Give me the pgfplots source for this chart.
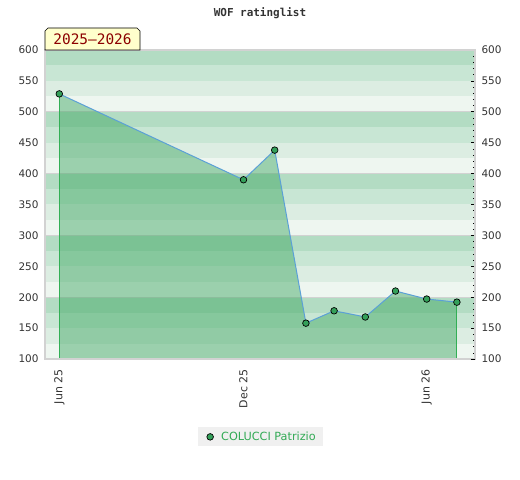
\documentclass[border=0pt]{standalone}
\usepackage{pgfplots}
\pgfplotsset{compat=1.18}
\usepackage{fontspec}
\setmainfont{DejaVu Sans}
\newfontfamily\monofont{DejaVu Sans Mono}
\definecolor{bandA}{RGB}{238,246,240}
\definecolor{bandB}{RGB}{220,237,226}
\definecolor{bandC}{RGB}{200,230,212}
\definecolor{bandD}{RGB}{179,220,195}
\definecolor{fillg}{RGB}{58,165,94}
\definecolor{edgeg}{RGB}{50,175,85}
\definecolor{lineb}{RGB}{91,160,215}
\definecolor{markg}{RGB}{52,160,90}
\definecolor{frameg}{RGB}{210,210,210}
\definecolor{labg}{RGB}{51,51,51}
\definecolor{legg}{RGB}{50,170,85}
\definecolor{boxy}{RGB}{255,255,204}
\definecolor{darkred}{RGB}{140,0,0}
\begin{document}
\begin{tikzpicture}[x=1bp,y=1bp]
\useasboundingbox (-45,-121) rectangle (475,359);
\begin{axis}[
  at={(0,0)}, anchor=south west,
  scale only axis, width=430bp, height=309bp,
  xmin=-14.2, xmax=413, ymin=100, ymax=600,
  axis on top,
  axis line style={frameg, line width=1.2pt},
  ytick={100,150,...,600},
  major tick length=0pt,
  yticklabel style={font=\fontsize{10.5}{12}\selectfont, text=labg, xshift=-3bp},
  xtick={0,183,365},
  xticklabels={Jun 25,Dec 25,Jun 26},
  xticklabel style={font=\fontsize{11}{12}\selectfont, text=labg, rotate=90, anchor=east, xshift=-7bp},
  /pgf/number format/assume math mode=true,
  legend style={at={(0.501,-0.252)}, anchor=center, fill=black!6, draw=none,
    font=\fontsize{11.3}{13}\selectfont, text=legg, inner xsep=5bp, inner ysep=2.5bp},
  legend cell align=left,
  clip=false,
]
% background bands
\fill[bandA] (axis cs:-14.2,100) rectangle (axis cs:413,125);
\fill[bandB] (axis cs:-14.2,125) rectangle (axis cs:413,150);
\fill[bandC] (axis cs:-14.2,150) rectangle (axis cs:413,175);
\fill[bandD] (axis cs:-14.2,175) rectangle (axis cs:413,200);
\fill[bandA] (axis cs:-14.2,200) rectangle (axis cs:413,225);
\fill[bandB] (axis cs:-14.2,225) rectangle (axis cs:413,250);
\fill[bandC] (axis cs:-14.2,250) rectangle (axis cs:413,275);
\fill[bandD] (axis cs:-14.2,275) rectangle (axis cs:413,300);
\fill[bandA] (axis cs:-14.2,300) rectangle (axis cs:413,325);
\fill[bandB] (axis cs:-14.2,325) rectangle (axis cs:413,350);
\fill[bandC] (axis cs:-14.2,350) rectangle (axis cs:413,375);
\fill[bandD] (axis cs:-14.2,375) rectangle (axis cs:413,400);
\fill[bandA] (axis cs:-14.2,400) rectangle (axis cs:413,425);
\fill[bandB] (axis cs:-14.2,425) rectangle (axis cs:413,450);
\fill[bandC] (axis cs:-14.2,450) rectangle (axis cs:413,475);
\fill[bandD] (axis cs:-14.2,475) rectangle (axis cs:413,500);
\fill[bandA] (axis cs:-14.2,500) rectangle (axis cs:413,525);
\fill[bandB] (axis cs:-14.2,525) rectangle (axis cs:413,550);
\fill[bandC] (axis cs:-14.2,550) rectangle (axis cs:413,575);
\fill[bandD] (axis cs:-14.2,575) rectangle (axis cs:413,600);
\draw[frameg, line width=0.8pt] (axis cs:-14.2,200) -- (axis cs:413,200);
\draw[frameg, line width=0.8pt] (axis cs:-14.2,300) -- (axis cs:413,300);
\draw[frameg, line width=0.8pt] (axis cs:-14.2,400) -- (axis cs:413,400);
\draw[frameg, line width=0.8pt] (axis cs:-14.2,500) -- (axis cs:413,500);
% filled area
\addplot[fill=fillg, fill opacity=0.46, draw=none, forget plot]
  coordinates {(0,529) (183,390) (214,438) (245,158) (273,178) (304,168) (334,210) (365,197) (395,192)} \closedcycle;
\addplot[draw=edgeg, line width=0.8pt, forget plot] coordinates {(0,100) (0,529)};
\addplot[draw=edgeg, line width=0.8pt, forget plot] coordinates {(395,100) (395,192)};
\addplot[lineb, line width=1pt, mark=*, mark size=3.3bp,
  mark options={fill=markg, draw=black, line width=0.7pt}, forget plot]
  coordinates {(0,529) (183,390) (214,438) (245,158) (273,178) (304,168) (334,210) (365,197) (395,192)};
\addlegendimage{legend image code/.code={\path[draw=none] (0bp,-1bp) rectangle (16bp,1bp); \filldraw[fill=markg, draw=black, line width=0.7pt] (7bp,0bp) circle (3.3bp);}}
\addlegendentry{COLUCCI Patrizio}
\end{axis}
\begin{axis}[
  at={(0,0)}, anchor=south west,
  scale only axis, width=430bp, height=309bp,
  xmin=-14.2, xmax=413, ymin=100, ymax=600,
  axis y line*=right, axis x line=none,
  axis line style={frameg, line width=1.2pt},
  ytick={100,150,...,600},
  minor ytick={110,120,...,590},
  tick align=inside,
  major tick length=4bp, minor tick length=2.5bp,
  tick style={black, line width=0.6pt},
  yticklabel style={font=\fontsize{10.5}{12}\selectfont, text=labg, xshift=3bp},
  /pgf/number format/assume math mode=true,
]
\end{axis}
\draw[frameg, line width=1.2pt] (0,309) -- (430,309);
\draw[black, line width=0.6pt, fill=boxy] (0,309) -- (0,328) -- (3,331) -- (92,331) -- (95,328) -- (95,309) -- cycle;
\node[anchor=center, text=darkred, font=\monofont\fontsize{14.5}{16}\selectfont] at (47.5,319.5) {2025–2026};
\node[anchor=center, text=black!80, font=\monofont\bfseries\fontsize{11}{13}\selectfont] at (215,346) {WOF ratinglist};
\end{tikzpicture}
\end{document}
